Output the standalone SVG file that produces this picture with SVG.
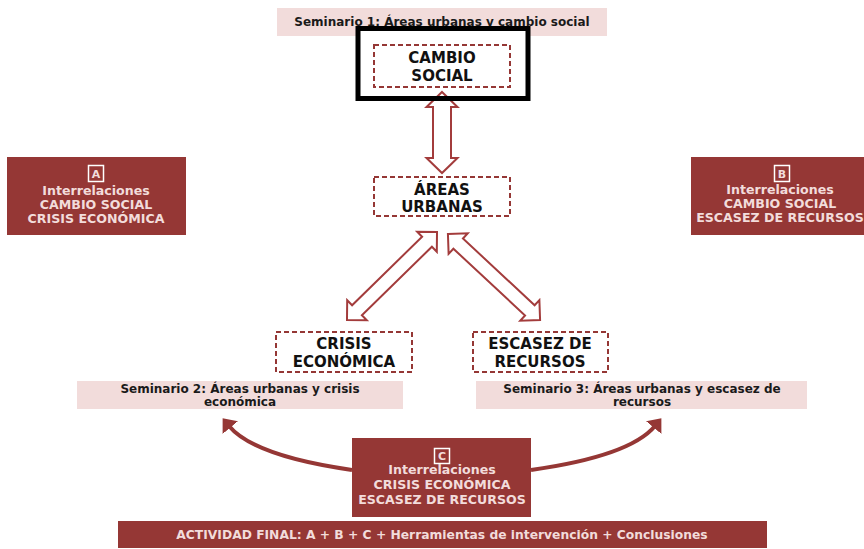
<svg xmlns="http://www.w3.org/2000/svg" width="864" height="549" viewBox="0 0 864 549">
<defs>
<style>
.band{fill:#f2dcdb}
.dark{fill:#953735}
.dash{fill:#fff;stroke:#953735;stroke-width:2;stroke-dasharray:5 3}
.t{font-family:"DejaVu Sans","Verdana",sans-serif;font-weight:bold;text-anchor:middle}
.tb{fill:#1a1a1a;font-size:12px}
.tn{fill:#111;font-size:15px}
.tw{fill:#f2dcdb;font-size:12.6px}
.lbl{fill:#953735;stroke:#fff;stroke-width:1.5}
.lt{fill:#f2dcdb;font-family:"DejaVu Sans",sans-serif;font-weight:bold;font-size:11px;text-anchor:middle}
.dbl{fill:#fff;stroke:#a33c3c;stroke-width:2;stroke-linejoin:miter}
.curve{fill:none;stroke:#953735;stroke-width:4}
</style>
<marker id="ah" viewBox="0 0 12 20" refX="2" refY="10" markerUnits="userSpaceOnUse" markerWidth="12" markerHeight="20" orient="auto">
<path d="M0,0 L12,10 L0,20 Z" fill="#953735"/>
</marker>
<path id="dv" d="M-40.5,0 L-25.5,-15.5 L-25.5,-9 L25.5,-9 L25.5,-15.5 L40.5,0 L25.5,15.5 L25.5,9 L-25.5,9 L-25.5,15.5 Z"/>
<path id="dd" d="M-63,0 L-49,-14 L-49,-7 L49,-7 L49,-14 L63,0 L49,14 L49,7 L-49,7 L-49,14 Z"/>
</defs>
<rect width="864" height="549" fill="#fff"/>

<g id="seminario1">
<rect class="band" x="277" y="8" width="330" height="28"/>
<text class="t tb" x="442" y="26">Seminario 1: Áreas urbanas y cambio social</text>
</g>

<g id="cambio-social">
<rect x="358" y="28.5" width="170" height="70" fill="#fff"/>
</g>

<g id="connectors">
<use href="#dv" class="dbl" transform="translate(442,132.5) rotate(90)"/>
<use href="#dd" class="dbl" transform="translate(392,276) rotate(-44.4)"/>
<use href="#dd" class="dbl" transform="translate(494,277) rotate(43)"/>
<path class="curve" d="M352,470 Q254,456 229,426" marker-end="url(#ah)"/>
<path class="curve" d="M531,470 Q630,456 655,426" marker-end="url(#ah)"/>
</g>

<g id="cambio-social-frame">
<rect x="358" y="28.5" width="170" height="70" fill="none" stroke="#000" stroke-width="5"/>
<rect class="dash" x="374" y="45" width="136" height="42"/>
<text class="t tn" x="442" y="63">CAMBIO</text>
<text class="t tn" x="442" y="81">SOCIAL</text>
</g>

<g id="areas-urbanas">
<rect class="dash" x="374" y="177" width="136" height="39"/>
<text class="t tn" x="442" y="195">ÁREAS</text>
<text class="t tn" x="442" y="212">URBANAS</text>
</g>

<g id="crisis-economica">
<rect class="dash" x="276" y="332" width="136" height="40"/>
<text class="t tn" x="344" y="349">CRISIS</text>
<text class="t tn" x="344" y="367">ECONÓMICA</text>
</g>

<g id="escasez-recursos">
<rect class="dash" x="473" y="332" width="135" height="40"/>
<text class="t tn" x="540" y="349">ESCASEZ DE</text>
<text class="t tn" x="540" y="367">RECURSOS</text>
</g>

<g id="seminario2">
<rect class="band" x="77" y="381" width="326" height="28"/>
<text class="t tb" x="240" y="393">Seminario 2: Áreas urbanas y crisis</text>
<text class="t tb" x="240" y="406">económica</text>
</g>

<g id="seminario3">
<rect class="band" x="476" y="381" width="331" height="28"/>
<text class="t tb" x="642" y="393">Seminario 3: Áreas urbanas y escasez de</text>
<text class="t tb" x="642" y="406">recursos</text>
</g>

<g id="box-a">
<rect class="dark" x="7" y="157" width="179" height="78"/>
<rect class="lbl" x="88.5" y="165.5" width="15" height="16"/>
<text class="lt" x="96" y="178">A</text>
<text class="t tw" x="96" y="195">Interrelaciones</text>
<text class="t tw" x="96" y="209">CAMBIO SOCIAL</text>
<text class="t tw" x="96" y="223">CRISIS ECONÓMICA</text>
</g>

<g id="box-b">
<rect class="dark" x="691" y="157" width="173" height="78"/>
<rect class="lbl" x="774.5" y="165.5" width="15" height="16"/>
<text class="lt" x="782" y="178">B</text>
<text class="t tw" x="780" y="194">Interrelaciones</text>
<text class="t tw" x="780" y="208">CAMBIO SOCIAL</text>
<text class="t tw" x="780" y="222">ESCASEZ DE RECURSOS</text>
</g>

<g id="box-c">
<rect class="dark" x="352" y="438" width="179" height="79"/>
<rect class="lbl" x="434.5" y="448.5" width="15" height="15"/>
<text class="lt" x="442" y="460">C</text>
<text class="t tw" x="442" y="474">Interrelaciones</text>
<text class="t tw" x="442" y="489">CRISIS ECONÓMICA</text>
<text class="t tw" x="442" y="504">ESCASEZ DE RECURSOS</text>
</g>

<g id="actividad-final">
<rect class="dark" x="118" y="521" width="649" height="27"/>
<text class="t tw" x="442" y="539" style="font-size:12.3px">ACTIVIDAD FINAL: A + B + C + Herramientas de intervención + Conclusiones</text>
</g>
</svg>
